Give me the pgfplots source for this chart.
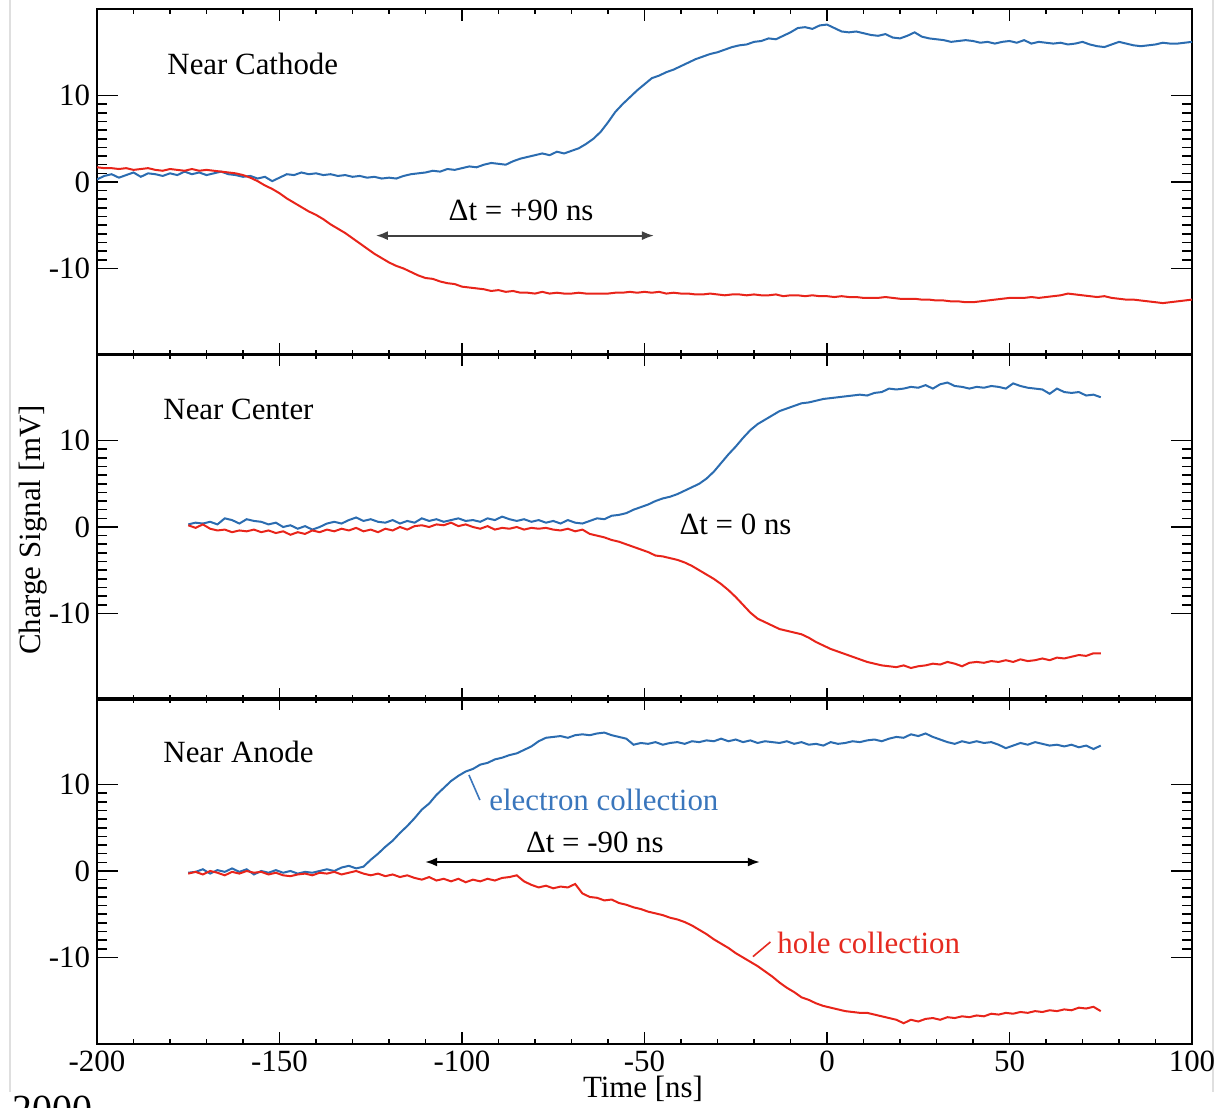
\documentclass[border=0pt]{standalone}
\usepackage{pgfplots}
\pgfplotsset{compat=1.18}
\usetikzlibrary{arrows.meta}
\usepackage{fontspec}
\setmainfont{Liberation Serif}
\definecolor{cblue}{HTML}{2B6CB0}
\definecolor{cred}{HTML}{E8241A}
\definecolor{tblue}{HTML}{3A76BC}
\definecolor{tred}{HTML}{E52A20}
\tikzset{lab/.style={inner sep=0pt, font=\fontsize{15.5}{16}\selectfont}}
\pgfplotsset{
  panel/.style={scale only axis, width=547.5bp, height=173bp,
    xmin=-200, xmax=100, ymin=-20, ymax=20,
    xtick={-200,-150,...,100}, minor x tick num=4,
    ytick={-10,0,10}, minor y tick num=9,
    tick align=inside, xtick pos=both, ytick pos=both,
    axis line style={line width=1bp},
    xtick style={line width=0.8bp, black, /pgfplots/major tick length=6bp, /pgfplots/minor tick length=2.5bp},
    ytick style={line width=0.8bp, black, /pgfplots/major tick length=10.5bp, /pgfplots/minor tick length=5bp},
    tick label style={font=\fontsize{15.5}{16}\selectfont},
    /pgf/number format/assume math mode=true,
    anchor=south west},
  bl/.style={cblue, line width=1bp},
  rd/.style={cred, line width=1bp},
}
\begin{document}
\begin{tikzpicture}
\useasboundingbox (0bp,0bp) rectangle (609.5bp,554bp);
\draw[gray!25, line width=1bp] (5bp,8bp) -- (5bp,554bp);
\draw[gray!25, line width=1bp] (606.5bp,8bp) -- (606.5bp,554bp);

% ---------------- Top panel ----------------
\begin{axis}[panel, at={(48.5bp,376.5bp)}, xticklabels=\empty]
\addplot[bl] coordinates {(-200,0.3)(-198,0.7)(-196,0.9)(-194,0.5)(-192,0.8)(-190,1.1)(-188,0.6)(-186,1.0)(-184,0.9)(-182,0.7)(-180,1.0)(-178,0.8)(-176,1.2)(-174,0.9)(-172,1.1)(-170,0.8)(-168,1.0)(-166,1.2)(-164,0.9)(-162,0.8)(-160,0.6)(-158,0.7)(-156,0.4)(-154,0.6)(-152,0.1)(-150,0.5)(-148,0.9)(-146,0.8)(-144,1.1)(-142,0.9)(-140,1.0)(-138,0.8)(-136,0.9)(-134,0.7)(-132,0.8)(-130,0.6)(-128,0.7)(-126,0.5)(-124,0.6)(-122,0.4)(-120,0.5)(-118,0.4)(-116,0.7)(-114,0.9)(-112,1.0)(-110,1.1)(-108,1.3)(-106,1.2)(-104,1.5)(-102,1.4)(-100,1.6)(-98,1.8)(-96,1.7)(-94,2.0)(-92,2.2)(-90,2.1)(-88,2.0)(-86,2.4)(-84,2.7)(-82,2.9)(-80,3.1)(-78,3.3)(-76,3.1)(-74,3.5)(-72,3.3)(-70,3.6)(-68,3.9)(-66,4.4)(-64,5.0)(-62,5.8)(-60,6.9)(-58,8.1)(-56,9.0)(-54,9.8)(-52,10.6)(-50,11.3)(-48,12.0)(-46,12.3)(-44,12.7)(-42,13.0)(-40,13.4)(-38,13.8)(-36,14.2)(-34,14.5)(-32,14.8)(-30,15.0)(-28,15.3)(-26,15.6)(-24,15.8)(-22,15.9)(-20,16.2)(-18,16.3)(-16,16.6)(-14,16.5)(-12,16.9)(-10,17.3)(-8,17.8)(-6,17.9)(-4,17.7)(-2,18.1)(0,18.2)(2,17.8)(4,17.4)(6,17.3)(8,17.4)(10,17.2)(12,17.0)(14,16.9)(16,17.1)(18,16.7)(20,16.6)(22,16.9)(24,17.3)(26,16.8)(28,16.6)(30,16.5)(32,16.4)(34,16.2)(36,16.3)(38,16.4)(40,16.3)(42,16.1)(44,16.2)(46,16.0)(48,16.2)(50,16.3)(52,16.1)(54,16.4)(56,16.0)(58,16.2)(60,16.1)(62,16.0)(64,16.1)(66,15.9)(68,16.0)(70,16.2)(72,15.9)(74,15.7)(76,15.6)(78,15.9)(80,16.2)(82,16.0)(84,15.8)(86,15.7)(88,15.8)(90,15.9)(92,16.1)(94,16.0)(96,16.0)(98,16.1)(100,16.2)};
\addplot[rd] coordinates {(-200,1.7)(-198,1.6)(-196,1.6)(-194,1.5)(-192,1.6)(-190,1.4)(-188,1.5)(-186,1.6)(-184,1.4)(-182,1.3)(-180,1.5)(-178,1.4)(-176,1.3)(-174,1.5)(-172,1.3)(-170,1.4)(-168,1.3)(-166,1.2)(-164,1.1)(-162,1.0)(-160,0.8)(-158,0.5)(-156,0.1)(-154,-0.4)(-152,-0.8)(-150,-1.3)(-148,-1.9)(-146,-2.4)(-144,-2.9)(-142,-3.4)(-140,-3.8)(-138,-4.3)(-136,-4.9)(-134,-5.4)(-132,-5.9)(-130,-6.5)(-128,-7.1)(-126,-7.7)(-124,-8.3)(-122,-8.8)(-120,-9.3)(-118,-9.7)(-116,-10.0)(-114,-10.4)(-112,-10.8)(-110,-11.1)(-108,-11.2)(-106,-11.5)(-104,-11.7)(-102,-11.8)(-100,-12.1)(-98,-12.2)(-96,-12.3)(-94,-12.4)(-92,-12.6)(-90,-12.5)(-88,-12.7)(-86,-12.6)(-84,-12.8)(-82,-12.8)(-80,-12.9)(-78,-12.7)(-76,-12.9)(-74,-12.8)(-72,-12.9)(-70,-12.9)(-68,-12.8)(-66,-12.9)(-64,-12.9)(-62,-12.9)(-60,-12.9)(-58,-12.8)(-56,-12.8)(-54,-12.7)(-52,-12.8)(-50,-12.7)(-48,-12.8)(-46,-12.7)(-44,-12.9)(-42,-12.8)(-40,-12.9)(-38,-12.9)(-36,-13.0)(-34,-13.0)(-32,-12.9)(-30,-13.0)(-28,-13.1)(-26,-13.0)(-24,-13.0)(-22,-13.1)(-20,-13.0)(-18,-13.1)(-16,-13.1)(-14,-13.0)(-12,-13.2)(-10,-13.1)(-8,-13.1)(-6,-13.2)(-4,-13.1)(-2,-13.2)(0,-13.2)(2,-13.3)(4,-13.2)(6,-13.3)(8,-13.3)(10,-13.4)(12,-13.4)(14,-13.4)(16,-13.3)(18,-13.4)(20,-13.5)(22,-13.5)(24,-13.5)(26,-13.6)(28,-13.6)(30,-13.7)(32,-13.7)(34,-13.8)(36,-13.8)(38,-13.9)(40,-13.9)(42,-13.8)(44,-13.7)(46,-13.6)(48,-13.5)(50,-13.4)(52,-13.4)(54,-13.4)(56,-13.3)(58,-13.4)(60,-13.3)(62,-13.2)(64,-13.1)(66,-12.9)(68,-13.0)(70,-13.1)(72,-13.2)(74,-13.3)(76,-13.2)(78,-13.4)(80,-13.5)(82,-13.6)(84,-13.6)(86,-13.7)(88,-13.8)(90,-13.9)(92,-14.0)(94,-13.9)(96,-13.8)(98,-13.7)(100,-13.6)};
\node[lab, anchor=base west] at (axis cs:-180.8,12.4) {Near Cathode};
\node[lab, anchor=base] at (axis cs:-83.8,-4.4) {Δt = +90 ns};
\draw[{Latex[length=6bp,width=4.5bp]}-{Latex[length=6bp,width=4.5bp]}, black!75, line width=1bp] (axis cs:-123.6,-6.2) -- (axis cs:-47.4,-6.2);
\end{axis}

% ---------------- Middle panel ----------------
\begin{axis}[panel, at={(48.5bp,204bp)}, xticklabels=\empty]
\addplot[bl] coordinates {(-175,0.3)(-173,0.5)(-171,0.4)(-169,0.6)(-167,0.3)(-165,1.0)(-163,0.8)(-161,0.4)(-159,0.9)(-157,0.7)(-155,0.6)(-153,0.3)(-151,0.5)(-149,0.0)(-147,0.2)(-145,-0.2)(-143,0.1)(-141,-0.3)(-139,0.0)(-137,0.4)(-135,0.6)(-133,0.4)(-131,0.8)(-129,1.1)(-127,0.7)(-125,0.9)(-123,0.6)(-121,0.5)(-119,0.8)(-117,0.4)(-115,0.7)(-113,0.5)(-111,1.0)(-109,0.7)(-107,0.9)(-105,0.6)(-103,0.8)(-101,1.0)(-99,0.7)(-97,0.8)(-95,0.6)(-93,1.0)(-91,0.8)(-89,1.2)(-87,0.9)(-85,0.7)(-83,0.9)(-81,0.6)(-79,0.8)(-77,0.5)(-75,0.7)(-73,0.4)(-71,0.8)(-69,0.5)(-67,0.4)(-65,0.7)(-63,1.0)(-61,0.9)(-59,1.3)(-57,1.4)(-55,1.6)(-53,2.0)(-51,2.3)(-49,2.6)(-47,3.0)(-45,3.3)(-43,3.5)(-41,3.8)(-39,4.2)(-37,4.6)(-35,5.0)(-33,5.6)(-31,6.4)(-29,7.4)(-27,8.4)(-25,9.3)(-23,10.3)(-21,11.2)(-19,11.9)(-17,12.4)(-15,12.9)(-13,13.4)(-11,13.7)(-9,14.0)(-7,14.3)(-5,14.4)(-3,14.6)(-1,14.8)(1,14.9)(3,15.0)(5,15.1)(7,15.2)(9,15.3)(11,15.2)(13,15.5)(15,15.6)(17,16.0)(19,15.9)(21,16.0)(23,16.2)(25,16.1)(27,16.4)(29,16.0)(31,16.5)(33,16.7)(35,16.3)(37,16.2)(39,16.0)(41,16.2)(43,16.1)(45,16.3)(47,16.2)(49,16.0)(51,16.6)(53,16.3)(55,16.1)(57,16.0)(59,15.9)(61,15.4)(63,16.0)(65,15.6)(67,15.5)(69,15.6)(71,15.2)(73,15.3)(75,15.0)};
\addplot[rd] coordinates {(-175,0.2)(-173,-0.1)(-171,0.3)(-169,-0.2)(-167,-0.4)(-165,-0.3)(-163,-0.6)(-161,-0.4)(-159,-0.5)(-157,-0.3)(-155,-0.6)(-153,-0.4)(-151,-0.7)(-149,-0.5)(-147,-0.9)(-145,-0.6)(-143,-0.8)(-141,-0.4)(-139,-0.6)(-137,-0.3)(-135,-0.5)(-133,-0.2)(-131,-0.4)(-129,-0.1)(-127,-0.5)(-125,-0.3)(-123,-0.6)(-121,-0.2)(-119,-0.4)(-117,0.0)(-115,-0.3)(-113,0.1)(-111,0.2)(-109,0.0)(-107,0.3)(-105,0.2)(-103,0.5)(-101,0.1)(-99,0.3)(-97,0.0)(-95,-0.2)(-93,0.1)(-91,-0.3)(-89,-0.1)(-87,-0.2)(-85,0.0)(-83,-0.3)(-81,-0.1)(-79,-0.2)(-77,-0.1)(-75,-0.3)(-73,-0.4)(-71,-0.2)(-69,-0.5)(-67,-0.3)(-65,-0.8)(-63,-1.0)(-61,-1.2)(-59,-1.5)(-57,-1.7)(-55,-2.0)(-53,-2.3)(-51,-2.6)(-49,-2.9)(-47,-3.3)(-45,-3.4)(-43,-3.6)(-41,-3.8)(-39,-4.1)(-37,-4.5)(-35,-5.0)(-33,-5.5)(-31,-6.0)(-29,-6.6)(-27,-7.3)(-25,-8.1)(-23,-9.0)(-21,-9.9)(-19,-10.6)(-17,-11.0)(-15,-11.4)(-13,-11.8)(-11,-12.0)(-9,-12.2)(-7,-12.4)(-5,-12.8)(-3,-13.3)(-1,-13.7)(1,-14.1)(3,-14.4)(5,-14.7)(7,-15.0)(9,-15.3)(11,-15.6)(13,-15.8)(15,-16.0)(17,-16.1)(19,-16.2)(21,-16.0)(23,-16.3)(25,-16.1)(27,-16.0)(29,-15.8)(31,-15.9)(33,-15.6)(35,-15.8)(37,-16.1)(39,-15.7)(41,-15.6)(43,-15.7)(45,-15.5)(47,-15.6)(49,-15.4)(51,-15.6)(53,-15.3)(55,-15.5)(57,-15.4)(59,-15.2)(61,-15.4)(63,-15.1)(65,-15.2)(67,-15.0)(69,-14.8)(71,-14.9)(73,-14.6)(75,-14.6)};
\node[lab, anchor=base west] at (axis cs:-181.9,12.4) {Near Center};
\node[lab, anchor=base west] at (axis cs:-40.5,-0.9) {Δt = 0 ns};
\end{axis}

% ---------------- Bottom panel ----------------
\begin{axis}[panel, at={(48.5bp,32bp)}]
\addplot[bl] coordinates {(-175,-0.2)(-173,-0.1)(-171,0.2)(-169,-0.3)(-167,0.1)(-165,-0.1)(-163,0.3)(-161,-0.1)(-159,0.2)(-157,-0.4)(-155,0.0)(-153,-0.2)(-151,0.1)(-149,-0.2)(-147,0.0)(-145,-0.3)(-143,-0.1)(-141,-0.2)(-139,0.0)(-137,0.2)(-135,0.0)(-133,0.4)(-131,0.6)(-129,0.3)(-127,0.5)(-125,1.3)(-123,2.0)(-121,2.8)(-119,3.5)(-117,4.4)(-115,5.2)(-113,6.1)(-111,7.1)(-109,7.8)(-107,8.8)(-105,9.6)(-103,10.4)(-101,11.0)(-99,11.5)(-97,11.8)(-95,12.3)(-93,12.5)(-91,12.9)(-89,13.1)(-87,13.4)(-85,13.6)(-83,14.0)(-81,14.4)(-79,15.0)(-77,15.4)(-75,15.5)(-73,15.6)(-71,15.4)(-69,15.7)(-67,15.8)(-65,15.7)(-63,15.9)(-61,16.0)(-59,15.7)(-57,15.5)(-55,15.3)(-53,14.6)(-51,14.8)(-49,14.7)(-47,14.9)(-45,14.6)(-43,14.8)(-41,14.9)(-39,14.7)(-37,15.0)(-35,14.9)(-33,15.1)(-31,15.0)(-29,15.3)(-27,15.0)(-25,15.2)(-23,14.9)(-21,15.1)(-19,14.8)(-17,15.0)(-15,14.9)(-13,14.8)(-11,15.0)(-9,14.7)(-7,14.9)(-5,14.6)(-3,14.7)(-1,14.5)(1,14.9)(3,14.7)(5,14.8)(7,15.0)(9,14.9)(11,15.1)(13,15.2)(15,15.0)(17,15.3)(19,15.5)(21,15.4)(23,15.8)(25,15.6)(27,15.9)(29,15.5)(31,15.2)(33,14.9)(35,14.7)(37,15.0)(39,14.8)(41,15.0)(43,14.8)(45,14.9)(47,14.6)(49,14.2)(51,14.5)(53,14.8)(55,14.6)(57,14.9)(59,14.7)(61,14.5)(63,14.6)(65,14.4)(67,14.6)(69,14.3)(71,14.5)(73,14.1)(75,14.5)};
\addplot[rd] coordinates {(-175,-0.3)(-173,-0.1)(-171,-0.4)(-169,0.0)(-167,-0.2)(-165,-0.5)(-163,-0.1)(-161,-0.3)(-159,0.0)(-157,-0.2)(-155,-0.1)(-153,-0.4)(-151,-0.2)(-149,-0.5)(-147,-0.6)(-145,-0.4)(-143,-0.3)(-141,-0.5)(-139,-0.2)(-137,-0.3)(-135,-0.1)(-133,-0.4)(-131,-0.2)(-129,0.0)(-127,-0.3)(-125,-0.5)(-123,-0.3)(-121,-0.6)(-119,-0.4)(-117,-0.7)(-115,-0.5)(-113,-0.8)(-111,-1.0)(-109,-0.7)(-107,-1.1)(-105,-0.9)(-103,-1.2)(-101,-0.9)(-99,-1.3)(-97,-1.0)(-95,-1.2)(-93,-0.9)(-91,-1.1)(-89,-0.8)(-87,-0.7)(-85,-0.5)(-83,-1.2)(-81,-1.6)(-79,-1.9)(-77,-1.7)(-75,-2.0)(-73,-1.8)(-71,-1.9)(-69,-1.5)(-67,-2.6)(-65,-3.0)(-63,-3.1)(-61,-3.4)(-59,-3.3)(-57,-3.7)(-55,-3.9)(-53,-4.2)(-51,-4.4)(-49,-4.7)(-47,-4.9)(-45,-5.1)(-43,-5.4)(-41,-5.6)(-39,-5.9)(-37,-6.3)(-35,-6.8)(-33,-7.3)(-31,-7.9)(-29,-8.4)(-27,-8.9)(-25,-9.5)(-23,-10.0)(-21,-10.5)(-19,-11.0)(-17,-11.6)(-15,-12.2)(-13,-12.9)(-11,-13.5)(-9,-14.0)(-7,-14.6)(-5,-14.9)(-3,-15.3)(-1,-15.6)(1,-15.8)(3,-16.0)(5,-16.2)(7,-16.3)(9,-16.4)(11,-16.4)(13,-16.6)(15,-16.8)(17,-17.0)(19,-17.2)(21,-17.6)(23,-17.2)(25,-17.4)(27,-17.1)(29,-17.0)(31,-17.2)(33,-16.9)(35,-17.0)(37,-16.8)(39,-16.9)(41,-16.7)(43,-16.8)(45,-16.5)(47,-16.6)(49,-16.4)(51,-16.5)(53,-16.3)(55,-16.4)(57,-16.2)(59,-16.3)(61,-16.1)(63,-16.2)(65,-16.0)(67,-16.1)(69,-15.8)(71,-15.9)(73,-15.7)(75,-16.2)};
\node[lab, anchor=base west] at (axis cs:-181.9,12.6) {Near Anode};
\node[lab, anchor=base west, text=tblue] at (axis cs:-92.6,7.05) {electron collection};
\draw[tblue, line width=0.8bp] (axis cs:-98.1,11.1) -- (axis cs:-95.1,8.2);
\node[lab, anchor=base] at (axis cs:-63.6,2.1) {Δt = -90 ns};
\draw[{Latex[length=6bp,width=4.5bp]}-{Latex[length=6bp,width=4.5bp]}, black, line width=1bp] (axis cs:-110.1,1.04) -- (axis cs:-18.4,1.04);
\node[lab, anchor=base west, text=tred] at (axis cs:-13.7,-9.5) {hole collection};
\draw[tred, line width=0.8bp] (axis cs:-20.3,-9.9) -- (axis cs:-15.5,-8.2);
\end{axis}

\node[lab, rotate=90] at (16.5bp,289bp) {Charge Signal [mV]};
\node[lab, anchor=base] at (321.5bp,5.5bp) {Time [ns]};
\node[inner sep=0pt, anchor=base west, font=\fontsize{20}{20}\selectfont] at (6bp,-7bp) {2000};
\end{tikzpicture}
\end{document}
